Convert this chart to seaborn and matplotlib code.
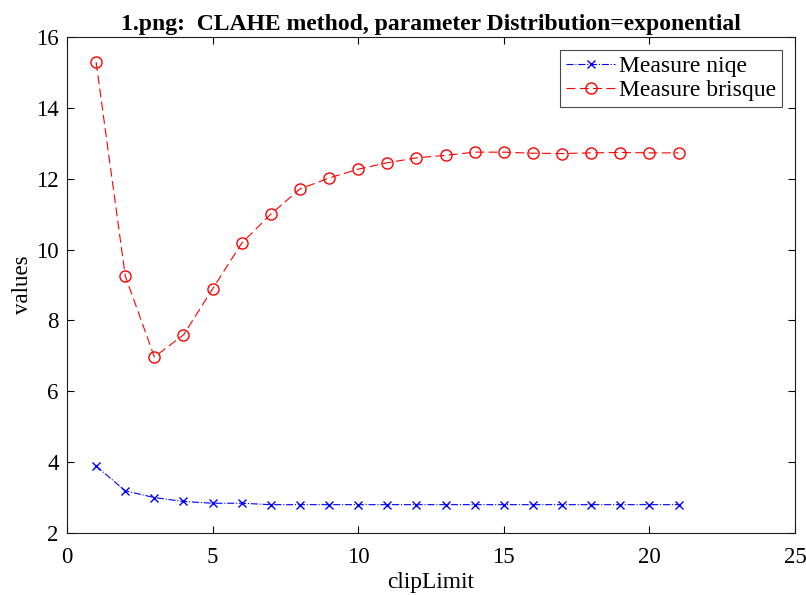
import matplotlib
matplotlib.use("Agg")
import matplotlib.pyplot as plt
import seaborn as sns
import pandas as pd

clip_limit = list(range(1, 22))
niqe = [3.89, 3.19, 3.00, 2.89, 2.84, 2.84, 2.80, 2.80, 2.80, 2.80, 2.80,
        2.80, 2.80, 2.80, 2.80, 2.80, 2.80, 2.80, 2.80, 2.80, 2.80]
brisque = [15.29, 9.26, 6.97, 7.59, 8.89, 10.18, 11.00, 11.71, 12.02, 12.27, 12.45,
           12.59, 12.66, 12.75, 12.75, 12.72, 12.71, 12.73, 12.74, 12.73, 12.73]
x_ticks = [0, 5, 10, 15, 20, 25]
y_ticks = [2, 4, 6, 8, 10, 12, 14, 16]
title = "1.png:  CLAHE method, parameter Distribution=exponential"

sns.set_style("ticks")
plt.rcParams["font.family"] = ["Liberation Serif", "DejaVu Serif"]
plt.rcParams["text.color"] = "black"
plt.rcParams["axes.labelcolor"] = "black"
plt.rcParams["xtick.color"] = "black"
plt.rcParams["ytick.color"] = "black"

df = pd.DataFrame({"clipLimit": clip_limit, "niqe": niqe, "brisque": brisque})

fig = plt.figure(figsize=(8.06, 5.95), dpi=100)
ax = fig.add_axes([0.0831, 0.1042, 0.9033, 0.8336])

sns.lineplot(data=df, x="clipLimit", y="niqe", ax=ax, color="blue",
             linestyle="-.", linewidth=0.8, marker="x", markersize=6,
             markeredgecolor="blue", markeredgewidth=1.0,
             label="Measure niqe")
sns.lineplot(data=df, x="clipLimit", y="brisque", ax=ax, color="red",
             linestyle=(0, (8, 4)), linewidth=0.8, marker="o", markersize=8,
             markerfacecolor="none", markeredgecolor="red", markeredgewidth=1.0,
             label="Measure brisque")

ax.set_xlim(0, 25)
ax.set_ylim(2, 16)
ax.set_xticks(x_ticks)
ax.set_yticks(y_ticks)
ax.tick_params(direction="in", top=True, right=True, labelsize=16.5, length=5,
               width=0.8)
ax.tick_params(axis="x", pad=10)
ax.tick_params(axis="y", pad=6)
for s in ax.spines.values():
    s.set_linewidth(0.8)
    s.set_color("#1a1a1a")
ax.set_xlabel("clipLimit", fontsize=16.8, labelpad=3)
ax.set_ylabel("values", fontsize=16.5, labelpad=2)
ax.set_title(title, fontsize=17, fontweight="bold", pad=5)

leg = ax.legend(loc="upper right", fontsize=17, frameon=True, fancybox=False,
                edgecolor="#1a1a1a", borderpad=0.25, labelspacing=0.1,
                handlelength=2.1, handletextpad=0.15, borderaxespad=0.55)
leg.get_frame().set_linewidth(0.8)

fig.savefig("out.png", dpi=100)
